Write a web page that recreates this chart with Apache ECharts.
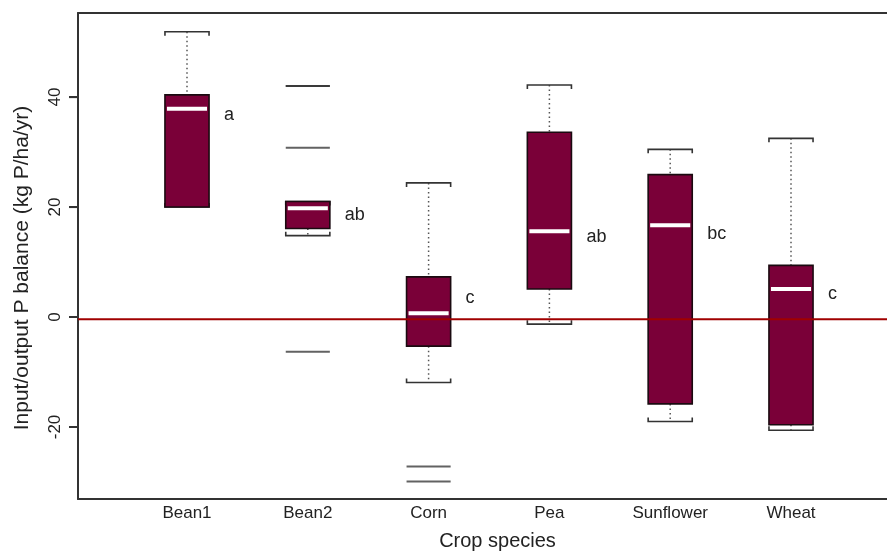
<!DOCTYPE html>
<html>
<head>
<meta charset="utf-8">
<script src="https://cdn.jsdelivr.net/npm/echarts@6/dist/echarts.min.js"></script>
<style>
html,body{margin:0;padding:0;background:#ffffff;}
#chart{width:887px;height:552px;}
</style>
</head>
<body>
<div id="chart"></div>
<script>
// ---- data ----
const categories = ['Bean1', 'Bean2', 'Corn', 'Pea', 'Sunflower', 'Wheat'];
const lowerWhisker = [20.0, 14.8, -11.9, -1.3, -19.0, -20.6];
const q1 = [20.0, 16.1, -5.3, 5.1, -15.8, -19.6];
const medians = [37.9, 19.8, 0.7, 15.6, 16.7, 5.1];
const q3 = [40.4, 21.0, 7.3, 33.6, 25.9, 9.4];
const upperWhisker = [51.9, 21.0, 24.4, 42.2, 30.5, 32.5];
const outlierCategory = ['Bean2', 'Bean2', 'Bean2', 'Bean2', 'Corn', 'Corn'];
const outlierValues = [42.0, 42.0, 30.8, -6.3, -27.2, -29.9];
const groupLetters = ['a', 'ab', 'c', 'ab', 'bc', 'c'];
const letterValues = [36.8, 18.6, 3.4, 14.5, 15.1, 4.1];
const referenceLine = -0.4;
const yTicks = [-20, 0, 20, 40];
const yTickStep = 20;
const yMin = -33.1;
const yMax = 55.3;

const FONT = '"Liberation Sans", Arial, Helvetica, sans-serif';
const TXT = '#222222';
const FRAME = '#333333';

// plot frame layout (pixels)
const W = 887, H = 552;
const FL = 78, FT = 13, FB = 53;
const plotH = H - FT - FB;
const pxPerUnit = plotH / (yMax - yMin);
// tick-label grid spans exactly the labelled range so labels use the same scale
const tickTop = FT + (yMax - yTicks[yTicks.length - 1]) * pxPerUnit;
const tickBottom = FB + (yTicks[0] - yMin) * pxPerUnit;

const boxData = categories.map((c, i) => [i, lowerWhisker[i], q1[i], medians[i], q3[i], upperWhisker[i]]);
const outlierData = outlierValues.map((v, i) => [categories.indexOf(outlierCategory[i]), v]);
const letterData = groupLetters.map((l, i) => [i, letterValues[i], l]);

const chart = echarts.init(document.getElementById('chart'), null, {renderer: 'canvas'});

function boxWidth(api) { return api.size([1, 0])[0] * 0.365; }

const titleGraphic = {
  id: 'ytitle', type: 'text', x: 22, y: 268, rotation: Math.PI / 2,
  style: {text: 'Input/output P balance (kg P/ha/yr)', fontFamily: FONT, fontSize: 21,
    fill: TXT, align: 'center', verticalAlign: 'middle'}
};

const option = {
  backgroundColor: '#ffffff',
  animation: false,
  grid: [
    {left: FL, top: FT, right: -30, bottom: FB, containLabel: false, outerBoundsMode: 'none'},
    {left: 126.6, top: FT, right: 35.6, bottom: FB, containLabel: false, outerBoundsMode: 'none'},
    {left: FL, top: tickTop, right: -30, bottom: tickBottom, containLabel: false, outerBoundsMode: 'none'}
  ],
  xAxis: [
    {
      gridIndex: 0, type: 'value', min: 0, max: 1, position: 'bottom',
      axisLine: {show: true, onZero: false, lineStyle: {color: FRAME, width: 2}},
      axisTick: {show: false}, axisLabel: {show: false}, splitLine: {show: false},
      name: 'Crop species', nameLocation: 'middle', nameGap: 32,
      nameTextStyle: {fontFamily: FONT, fontSize: 20, color: TXT}
    },
    {
      gridIndex: 0, type: 'value', min: 0, max: 1, position: 'top',
      axisLine: {show: true, onZero: false, lineStyle: {color: FRAME, width: 2}},
      axisTick: {show: false}, axisLabel: {show: false}, splitLine: {show: false}
    },
    {
      gridIndex: 1, type: 'category', data: categories, boundaryGap: true,
      axisLine: {show: false, onZero: false}, axisTick: {show: false}, splitLine: {show: false},
      axisLabel: {show: true, interval: 0, margin: 6, fontFamily: FONT, fontSize: 17, color: TXT}
    },
    {
      gridIndex: 2, type: 'value', min: 0, max: 1, show: false
    }
  ],
  yAxis: [
    {
      gridIndex: 0, type: 'value', min: yMin, max: yMax,
      axisLine: {show: true, onZero: false, lineStyle: {color: FRAME, width: 2}},
      axisTick: {show: false}, axisLabel: {show: false}, splitLine: {show: false}
    },
    {
      gridIndex: 1, type: 'value', min: yMin, max: yMax, show: false,
      splitLine: {show: false}
    },
    {
      gridIndex: 2, type: 'value', min: yTicks[0], max: yTicks[yTicks.length - 1], interval: yTickStep,
      axisLine: {show: false, onZero: false},
      axisTick: {show: true, length: 9, lineStyle: {color: FRAME, width: 2}},
      axisLabel: {show: true, rotate: 90, margin: 14, fontFamily: FONT, fontSize: 17, color: TXT},
      splitLine: {show: false}
    }
  ],
  graphic: [titleGraphic],
  series: [
    {
      type: 'custom', xAxisIndex: 2, yAxisIndex: 1, z: 2, clip: false,
      data: boxData,
      renderItem: function (params, api) {
        const x = api.value(0);
        const pLow = api.coord([x, api.value(1)]);
        const pQ1 = api.coord([x, api.value(2)]);
        const pMed = api.coord([x, api.value(3)]);
        const pQ3 = api.coord([x, api.value(4)]);
        const pUp = api.coord([x, api.value(5)]);
        const bw = boxWidth(api);
        const cx = pMed[0];
        const h = bw / 2;
        const capH = 4;
        const whiskerStyle = {stroke: '#555555', lineWidth: 1.5, lineDash: [1.5, 3]};
        const capStyle = {stroke: '#333333', lineWidth: 1.6, fill: null};
        return {
          type: 'group',
          children: [
            {type: 'line', shape: {x1: cx, y1: pUp[1], x2: cx, y2: pQ3[1]}, style: whiskerStyle},
            {type: 'line', shape: {x1: cx, y1: pQ1[1], x2: cx, y2: pLow[1]}, style: whiskerStyle},
            {type: 'polyline', shape: {points: [[cx - h, pUp[1] + capH], [cx - h, pUp[1]], [cx + h, pUp[1]], [cx + h, pUp[1] + capH]]}, style: capStyle},
            {type: 'polyline', shape: {points: [[cx - h, pLow[1] - capH], [cx - h, pLow[1]], [cx + h, pLow[1]], [cx + h, pLow[1] - capH]]}, style: capStyle},
            {type: 'rect', shape: {x: cx - h, y: pQ3[1], width: bw, height: pQ1[1] - pQ3[1]},
              style: {fill: '#7a0038', stroke: '#1a0a10', lineWidth: 1.6}},
            {type: 'line', shape: {x1: cx - h + 2, y1: pMed[1], x2: cx + h - 2, y2: pMed[1]},
              style: {stroke: '#ffffff', lineWidth: 4}}
          ]
        };
      }
    },
    {
      type: 'custom', xAxisIndex: 2, yAxisIndex: 1, z: 3, clip: false,
      data: outlierData,
      renderItem: function (params, api) {
        const p = api.coord([api.value(0), api.value(1)]);
        const h = boxWidth(api) / 2;
        return {type: 'line', shape: {x1: p[0] - h, y1: p[1], x2: p[0] + h, y2: p[1]},
          style: {stroke: 'rgba(45,45,45,0.75)', lineWidth: 2}};
      }
    },
    {
      type: 'custom', xAxisIndex: 2, yAxisIndex: 1, z: 3, clip: false,
      data: letterData,
      renderItem: function (params, api) {
        const p = api.coord([api.value(0), api.value(1)]);
        return {type: 'text', x: p[0] + 37, y: p[1],
          style: {text: groupLetters[params.dataIndex], fontFamily: FONT, fontSize: 18, fill: TXT,
            align: 'left', verticalAlign: 'middle'}};
      }
    },
    {
      type: 'line', xAxisIndex: 0, yAxisIndex: 0, z: 5,
      data: [[0, referenceLine], [1, referenceLine]],
      symbol: 'none', silent: true,
      lineStyle: {color: '#a00000', width: 2}
    }
  ]
};
chart.setOption(option);

// y-axis tick marks, positioned through the library's own y scale
const axisX = chart.convertToPixel({xAxisIndex: 0}, 0);
const tickGraphics = yTicks.map((v, i) => {
  const y = chart.convertToPixel({yAxisIndex: 0}, v);
  return {id: 'ytick' + i, type: 'line', z: 10,
    shape: {x1: axisX - 9, y1: y, x2: axisX, y2: y},
    style: {stroke: FRAME, lineWidth: 2}};
});
chart.setOption({graphic: [titleGraphic].concat(tickGraphics)});
</script>
</body>
</html>
